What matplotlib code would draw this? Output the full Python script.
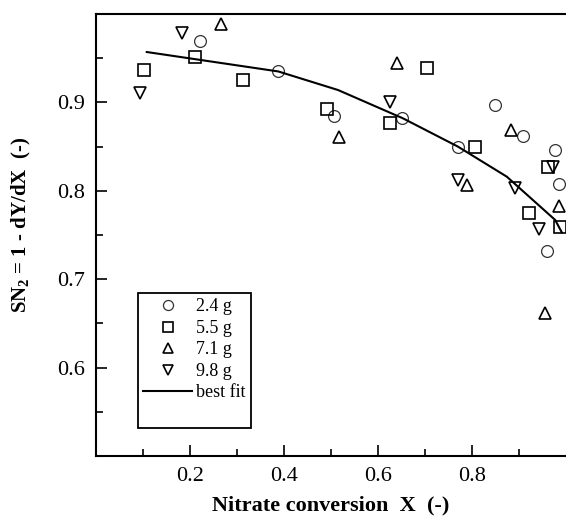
import matplotlib
matplotlib.use("Agg")
import matplotlib.pyplot as plt
from matplotlib.ticker import FixedLocator

plt.rcParams['font.family'] = ['Liberation Serif', 'DejaVu Serif']
plt.rcParams['mathtext.fontset'] = 'custom'
plt.rcParams['mathtext.rm'] = 'Liberation Serif:bold'
plt.rcParams['mathtext.bf'] = 'Liberation Serif:bold'
plt.rcParams['mathtext.it'] = 'Liberation Serif:bold:italic'

# data
x_24 = [0.221, 0.388, 0.506, 0.651, 0.770, 0.849, 0.908, 0.977, 0.985, 0.960]
y_24 = [0.969, 0.935, 0.885, 0.882, 0.850, 0.897, 0.862, 0.846, 0.808, 0.732]
x_55 = [0.103, 0.211, 0.313, 0.491, 0.626, 0.704, 0.806, 0.962, 0.921, 0.987]
y_55 = [0.937, 0.951, 0.925, 0.892, 0.877, 0.939, 0.850, 0.827, 0.775, 0.759]
x_71 = [0.265, 0.516, 0.640, 0.790, 0.882, 0.985, 0.955]
y_71 = [0.989, 0.861, 0.945, 0.807, 0.869, 0.783, 0.662]
x_98 = [0.094, 0.183, 0.626, 0.770, 0.891, 0.972, 0.943]
y_98 = [0.911, 0.978, 0.900, 0.812, 0.803, 0.827, 0.757]
fit_x = [0.108, 0.388, 0.515, 0.653, 0.770, 0.874, 0.977, 0.991]
fit_y = [0.957, 0.935, 0.914, 0.882, 0.850, 0.816, 0.767, 0.753]
labels = ['2.4 g', '5.5 g', '7.1 g', '9.8 g', 'best fit']
xticks = [0.2, 0.4, 0.6, 0.8]
yticks = [0.6, 0.7, 0.8, 0.9]

fig = plt.figure(figsize=(5.66, 5.17), dpi=100)
ax = fig.add_axes([96/566, 1-456/517, 1-96/566, (456-14)/517])

ms = 8.5
h1, = ax.plot(x_24, y_24, 'o', ms=ms, mfc='none', mec='#333333', mew=0.9, ls='none')
h2, = ax.plot(x_55, y_55, 's', ms=ms, mfc='none', mec='black', mew=1.2, ls='none')
h3, = ax.plot(x_71, y_71, '^', ms=ms, mfc='none', mec='black', mew=1.2, ls='none')
h4, = ax.plot(x_98, y_98, 'v', ms=ms, mfc='none', mec='black', mew=1.2, ls='none')
h5, = ax.plot(fit_x, fit_y, '-', color='black', lw=1.5)
blank, = ax.plot([], [], ls='none', marker='none')

ax.set_xlim(0, 1.0)
ax.set_ylim(0.5, 1.0)
ax.xaxis.set_major_locator(FixedLocator(xticks))
ax.xaxis.set_minor_locator(FixedLocator([0.1, 0.3, 0.5, 0.7, 0.9]))
ax.yaxis.set_major_locator(FixedLocator(yticks))
ax.yaxis.set_minor_locator(FixedLocator([0.55, 0.65, 0.75, 0.85, 0.95]))
ax.tick_params(which='both', direction='in', top=False, right=False, width=1.2,
               labelsize=16, pad=8)
ax.tick_params(which='major', length=8)
ax.tick_params(which='minor', length=5)
ax.set_xticklabels([f'{v:.1f}' for v in xticks])
ax.set_yticklabels([f'{v:.1f}' for v in yticks])
for s in ['left', 'bottom', 'top']:
    ax.spines[s].set_linewidth(1.5)
ax.spines['right'].set_visible(False)

ax.set_xlabel('Nitrate conversion  X  (-)', fontsize=16, fontweight='bold', labelpad=7)
ax.set_ylabel(r'S$\mathrm{N_2}$ = 1 - dY/dX  (-)', fontsize=15, fontweight='bold')
ax.yaxis.set_label_coords(-0.135, 0.523)

leg = ax.legend([h1, h2, h3, h4, h5, blank], labels + [''], loc='upper left',
                bbox_to_anchor=(0.089, 0.369), borderaxespad=0, fontsize=13,
                fancybox=False, edgecolor='black', framealpha=1,
                handlelength=2.7, handletextpad=0.2, labelspacing=0.25,
                borderpad=0.3, markerscale=0.85)
leg.get_frame().set_linewidth(1.3)

fig.savefig('out.png', dpi=100)
